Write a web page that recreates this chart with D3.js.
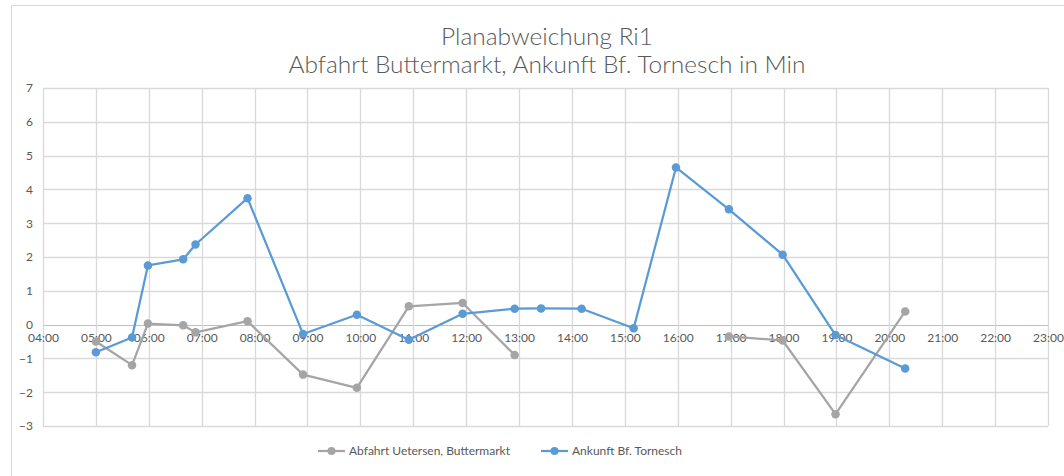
<!DOCTYPE html>
<html>
<head>
<meta charset="utf-8">
<script src="https://cdn.jsdelivr.net/npm/d3@7"></script>
<style>
    body { margin: 0; background: #fff; }
    svg { display: block; font-family: Lato, "Open Sans", sans-serif; }
</style>
</head>
<body>
<div id="chart"></div>
<script>

// data
const times = ['05:00','05:41','05:59','06:39','06:53','07:52','08:55','09:56','10:55','11:56','12:55',
               '13:25','14:11','15:10','15:58','16:58','17:59','18:59','20:18'];
const abfahrt = [-0.5, -1.2, 0.03, -0.02, -0.23, 0.1, -1.48, -1.87, 0.54, 0.64, -0.9,
                 null, null, null, null, -0.35, -0.47, -2.65, 0.39];
const ankunft = [-0.82, -0.38, 1.75, 1.93, 2.37, 3.74, -0.28, 0.29, -0.45, 0.32, 0.47,
                 0.48, 0.47, -0.11, 4.65, 3.41, 2.07, -0.31, -1.3];
const yTicks = [-3, -2, -1, 0, 1, 2, 3, 4, 5, 6, 7];
const titleLines = ['Planabweichung Ri1', 'Abfahrt Buttermarkt, Ankunft Bf. Tornesch in Min'];
const seriesNames = ['Abfahrt Uetersen, Buttermarkt', 'Ankunft Bf. Tornesch'];
const seriesColors = ['#a5a5a5', '#5b9bd5'];

// helpers
const toHours = (t) => { const [h, m] = t.split(':').map(Number); return h + m / 60; };

// dimensions
const width = 1064, height = 476;
const margins = { top: 88, bottom: 50, left: 43, right: 16 };

const svg = d3.select('#chart').append('svg')
    .attr('width', width)
    .attr('height', height);

// chart border
svg.append('rect')
    .attr('x', 11.5).attr('y', 5.5)
    .attr('width', 1070).attr('height', 480)
    .attr('fill', '#fff')
    .attr('stroke', '#d9d9d9');

// scales
const xScale = d3.scaleLinear().domain([4, 23]).range([margins.left, 1048]);
const yScale = d3.scaleLinear().domain([-3, 7]).range([426, margins.top]);

// grid
const grid = svg.append('g');
grid.selectAll('.hgrid')
    .data(yTicks)
    .join('line')
    .attr('class', 'hgrid')
    .attr('x1', xScale(4)).attr('x2', xScale(23))
    .attr('y1', d => Math.round(yScale(d)) + 0.5).attr('y2', d => Math.round(yScale(d)) + 0.5)
    .attr('stroke', d => d === 0 ? '#bfbfbf' : '#d9d9d9')
    .attr('stroke-width', d => d === 0 ? 1 : 1.3);

grid.selectAll('.vgrid')
    .data(d3.range(4, 24))
    .join('line')
    .attr('class', 'vgrid')
    .attr('x1', d => Math.round(xScale(d)) + 0.5).attr('x2', d => Math.round(xScale(d)) + 0.5)
    .attr('y1', yScale(7)).attr('y2', yScale(-3))
    .attr('stroke', '#d9d9d9')
    .attr('stroke-width', 1.3);

// y axis labels
const yAxis = d3.axisLeft(yScale).tickValues(yTicks).tickSize(0).tickPadding(10);
const yAxisGroup = svg.append('g')
    .attr('transform', `translate(${margins.left},0)`)
    .call(yAxis);
yAxisGroup.select('.domain').remove();
yAxisGroup.selectAll('text')
    .attr('fill', '#595959')
    .attr('font-size', 12)
    .attr('font-family', 'Lato, sans-serif');

// x axis labels on the zero line
const xAxis = d3.axisBottom(xScale)
    .tickValues(d3.range(4, 24))
    .tickFormat(d => String(d).padStart(2, '0') + ':00')
    .tickSize(0).tickPadding(9);
const xAxisGroup = svg.append('g')
    .attr('transform', `translate(0,${yScale(0)})`)
    .call(xAxis);
xAxisGroup.select('.domain').remove();
xAxisGroup.selectAll('text')
    .attr('fill', '#595959')
    .attr('font-size', 12)
    .attr('font-family', 'Lato, sans-serif');

// lines
const line = d3.line()
    .defined(d => d.value !== null)
    .x(d => xScale(d.hour))
    .y(d => yScale(d.value));

const series = [abfahrt, ankunft].map((values, i) => ({
    name: seriesNames[i],
    color: seriesColors[i],
    points: values.map((v, j) => ({ hour: toHours(times[j]), value: v }))
}));

const groups = svg.selectAll('.series')
    .data(series)
    .join('g')
    .attr('class', 'series');

groups.append('path')
    .attr('d', d => line(d.points))
    .attr('fill', 'none')
    .attr('stroke', d => d.color)
    .attr('stroke-width', 2.25)
    .attr('stroke-linejoin', 'round');

groups.each(function (s) {
    d3.select(this).selectAll('circle')
        .data(s.points.filter(p => p.value !== null))
        .join('circle')
        .attr('cx', p => xScale(p.hour))
        .attr('cy', p => yScale(p.value))
        .attr('r', 4.25)
        .attr('fill', s.color);
});

// title
const titleWidths = [212, 517];
svg.append('g').selectAll('text')
    .data(titleLines)
    .join('text')
    .attr('x', 547)
    .attr('y', (d, i) => 45 + i * 28)
    .attr('text-anchor', 'middle')
    .attr('font-size', 23)
    .attr('font-weight', 300)
    .attr('fill', '#595959')
    .attr('textLength', (d, i) => titleWidths[i])
    .attr('lengthAdjust', 'spacingAndGlyphs')
    .text(d => d);

// legend
const legendX = [318, 541];
const legend = svg.append('g').selectAll('g')
    .data(series)
    .join('g')
    .attr('transform', (d, i) => `translate(${legendX[i]},451)`);
legend.append('line')
    .attr('x1', 0).attr('x2', 27)
    .attr('stroke', d => d.color)
    .attr('stroke-width', 2.25);
legend.append('circle')
    .attr('cx', 13.5).attr('r', 4)
    .attr('fill', d => d.color);
legend.append('text')
    .attr('x', 31)
    .attr('dy', '0.35em')
    .attr('font-size', 12)
    .attr('fill', '#595959')
    .text(d => d.name);

</script>
</body>
</html>
